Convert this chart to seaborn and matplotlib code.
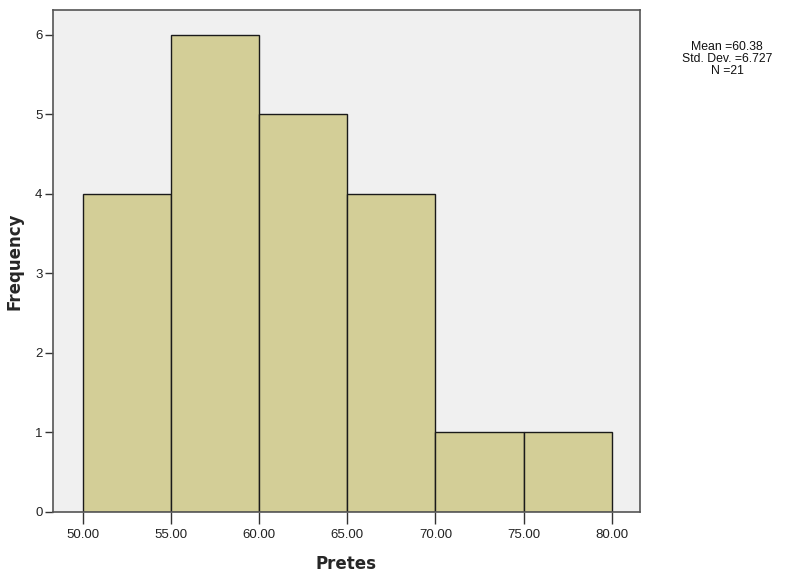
import matplotlib
matplotlib.use("Agg")
import matplotlib.pyplot as plt
import seaborn as sns
import numpy as np

# histogram bins
bin_edges = [50, 55, 60, 65, 70, 75, 80]
bin_counts = [4, 6, 5, 4, 1, 1]
x_ticks = [50, 55, 60, 65, 70, 75, 80]
y_ticks = [0, 1, 2, 3, 4, 5, 6]
stats_text = "Mean =60.38\nStd. Dev. =6.727\nN =21"

bin_mids = [(a + b) / 2 for a, b in zip(bin_edges[:-1], bin_edges[1:])]

sns.set_style("ticks")
plt.rcParams['font.family'] = ['Liberation Sans', 'DejaVu Sans']

fig = plt.figure(figsize=(8.01, 5.73), dpi=100)
ax = fig.add_axes([0.066, 0.1065, 0.733, 0.876])
ax.set_facecolor("#F0F0F0")

sns.histplot(x=bin_mids, weights=bin_counts, bins=bin_edges, ax=ax,
             color="#D3CE97", alpha=1, edgecolor="#1a1a1a", linewidth=1)

ax.set_xlim(48.3, 81.6)
ax.set_ylim(0, 6.31)
ax.set_xticks(x_ticks)
ax.set_xticklabels([f"{v:.2f}" for v in x_ticks], fontsize=9.5, color="#222222")
ax.set_yticks(y_ticks)
ax.set_yticklabels([str(v) for v in y_ticks], fontsize=9.5, color="#222222")
ax.tick_params(axis="x", length=8.5, width=1, color="#333333", pad=4)
ax.tick_params(axis="y", length=5.5, width=1, color="#333333", pad=2)

for s in ax.spines.values():
    s.set_color("#555555")
    s.set_linewidth(1.2)

ax.set_xlabel("Pretes", fontsize=12, fontweight="bold", family="DejaVu Sans", labelpad=10)
ax.set_ylabel("Frequency", fontsize=12, fontweight="bold", family="DejaVu Sans", labelpad=8)

fig.text(727 / 801, 1 - 59 / 573, stats_text, ha="center", va="center",
         fontsize=8.8, linespacing=1.05, color="#111111")

fig.savefig("out.png", dpi=100)
